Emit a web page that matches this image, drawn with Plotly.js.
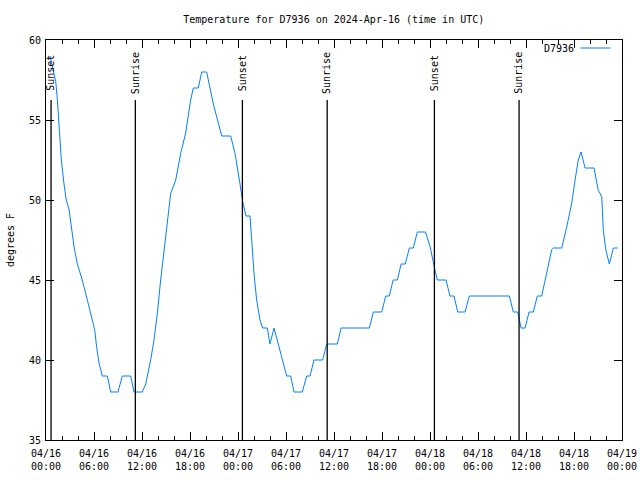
<!DOCTYPE html>
<html>
<head>
<meta charset="utf-8">
<script src="https://cdn.plot.ly/plotly-3.0.1.min.js"></script>
<style>html,body{margin:0;padding:0;background:#fff;}#chart{width:640px;height:480px;}</style>
</head>
<body>
<div id="chart"></div>
<script>
// ---- data ----
const times = [
 "2024-04-16 00:30","2024-04-16 01:13","2024-04-16 01:25","2024-04-16 01:38","2024-04-16 01:55",
 "2024-04-16 02:15","2024-04-16 02:32","2024-04-16 02:53","2024-04-16 03:10","2024-04-16 03:30",
 "2024-04-16 03:55","2024-04-16 04:32","2024-04-16 05:10","2024-04-16 05:47","2024-04-16 06:05",
 "2024-04-16 06:20","2024-04-16 06:38","2024-04-16 07:02","2024-04-16 07:40","2024-04-16 08:05",
 "2024-04-16 09:00","2024-04-16 09:32","2024-04-16 10:35","2024-04-16 11:00","2024-04-16 12:02",
 "2024-04-16 12:28","2024-04-16 13:05","2024-04-16 13:30","2024-04-16 13:55","2024-04-16 14:20",
 "2024-04-16 14:45","2024-04-16 15:10","2024-04-16 15:35","2024-04-16 16:13","2024-04-16 16:50",
 "2024-04-16 17:28","2024-04-16 18:05","2024-04-16 18:25","2024-04-16 19:02","2024-04-16 19:28",
 "2024-04-16 20:05","2024-04-16 20:55","2024-04-16 21:58","2024-04-16 23:05","2024-04-16 23:38",
 "2024-04-17 00:15","2024-04-17 00:35","2024-04-17 01:00","2024-04-17 01:30","2024-04-17 01:43",
 "2024-04-17 02:00","2024-04-17 02:20","2024-04-17 02:45","2024-04-17 03:05","2024-04-17 03:40",
 "2024-04-17 04:00","2024-04-17 04:30","2024-04-17 05:02","2024-04-17 05:35","2024-04-17 06:05",
 "2024-04-17 06:35","2024-04-17 07:00","2024-04-17 08:02","2024-04-17 08:35","2024-04-17 09:00",
 "2024-04-17 09:30","2024-04-17 10:35","2024-04-17 11:05","2024-04-17 12:25","2024-04-17 12:53",
 "2024-04-17 16:25","2024-04-17 16:55","2024-04-17 17:58","2024-04-17 18:28","2024-04-17 18:55",
 "2024-04-17 19:23","2024-04-17 19:55","2024-04-17 20:23","2024-04-17 20:55","2024-04-17 21:25",
 "2024-04-17 21:55","2024-04-17 22:25","2024-04-17 23:26","2024-04-18 00:00","2024-04-18 00:38",
 "2024-04-18 00:55","2024-04-18 02:00","2024-04-18 02:30","2024-04-18 03:00","2024-04-18 03:28",
 "2024-04-18 04:23","2024-04-18 04:55","2024-04-18 09:55","2024-04-18 10:25","2024-04-18 10:58",
 "2024-04-18 11:23","2024-04-18 11:53","2024-04-18 12:23","2024-04-18 12:55","2024-04-18 13:25",
 "2024-04-18 13:58","2024-04-18 14:35","2024-04-18 15:13","2024-04-18 15:25","2024-04-18 16:28",
 "2024-04-18 17:05","2024-04-18 17:43","2024-04-18 18:08","2024-04-18 18:32","2024-04-18 18:53",
 "2024-04-18 19:23","2024-04-18 20:30","2024-04-18 21:02","2024-04-18 21:28","2024-04-18 21:40",
 "2024-04-18 21:58","2024-04-18 22:25","2024-04-18 22:55","2024-04-18 23:28"
];
const tempsF = [
 59.0,57.4,56.3,54.6,52.5,
 51.0,50.0,49.4,48.3,47.1,
 46.0,45.0,43.75,42.5,41.9,
 40.8,39.8,39,39,38,
 38,39,39,38,38,
 38.5,40,41.25,42.9,45,
 46.9,48.75,50.4,51.25,52.9,
 54.2,56.25,57,57,58,
 58,56,54,54,52.9,
 51,49.9,49,49,47.5,
 45.4,43.75,42.5,42,42,
 41,42,41,40,39,
 39,38,38,39,39,
 40,40,41,41,42,
 42,43,43,44,44,
 45,45,46,46,47,
 47,48,48,47.1,45.6,
 45,45,44,44,43,
 43,44,44,43,43,
 42,42,43,43,44,
 44,45.4,46.9,47,47,
 48.3,49.8,51.25,52.5,53,
 52,52,50.6,50.2,48.1,
 46.9,46,47,47
];
const seriesName = "D7936";
const sunTimes = ["2024-04-16 00:38","2024-04-16 11:10","2024-04-17 00:33","2024-04-17 11:09","2024-04-18 00:33","2024-04-18 11:08"];
const sunLabels = ["Sunset","Sunrise","Sunset","Sunrise","Sunset","Sunrise"];
const xTickVals = ["2024-04-16 00:00","2024-04-16 06:00","2024-04-16 12:00","2024-04-16 18:00",
 "2024-04-17 00:00","2024-04-17 06:00","2024-04-17 12:00","2024-04-17 18:00",
 "2024-04-18 00:00","2024-04-18 06:00","2024-04-18 12:00","2024-04-18 18:00","2024-04-19 00:00"];
const xTickText = ["04/16<br>00:00","04/16<br>06:00","04/16<br>12:00","04/16<br>18:00",
 "04/17<br>00:00","04/17<br>06:00","04/17<br>12:00","04/17<br>18:00",
 "04/18<br>00:00","04/18<br>06:00","04/18<br>12:00","04/18<br>18:00","04/19<br>00:00"];
const titleText = "Temperature for D7936 on 2024-Apr-16 (time in UTC)";
const yTitle = "degrees F";

const FONT = "DejaVu Sans Mono, Liberation Mono, monospace";
const lineColor = "#0080ff";

const shapes = sunTimes.map(t => ({
  type: "line", xref: "x", yref: "paper", x0: t, x1: t, y0: 0, y1: 0.85,
  line: {color: "#000", width: 1.3}
}));
// legend sample line
shapes.push({type: "line", xref: "paper", yref: "paper", x0: 0.928, x1: 0.98, y0: 0.98, y1: 0.98,
  line: {color: lineColor, width: 1}});

const annotations = sunTimes.map((t, i) => ({
  x: t, xref: "x", y: 0.918, yref: "paper", text: sunLabels[i], textangle: -90,
  showarrow: false, xanchor: "center", yanchor: "middle",
  font: {family: FONT, size: 10, color: "#000"}
}));
annotations.push({x: 0.92, xref: "paper", y: 0.98, yref: "paper", text: seriesName,
  showarrow: false, xanchor: "right", yanchor: "middle", font: {family: FONT, size: 10, color: "#000"}});

const trace = {
  x: times, y: tempsF, type: "scatter", mode: "lines", name: seriesName,
  line: {color: lineColor, width: 1}, hoverinfo: "skip"
};

const layout = {
  width: 640, height: 480,
  margin: {l: 46, r: 18, t: 40, b: 40, pad: 0},
  paper_bgcolor: "#fff", plot_bgcolor: "#fff",
  showlegend: false,
  font: {family: FONT, size: 10, color: "#000"},
  title: {text: titleText, x: 0.5215, xanchor: "center", y: 0.96, yanchor: "middle",
    font: {family: FONT, size: 10, color: "#000"}},
  xaxis: {
    type: "date", range: ["2024-04-16 00:00", "2024-04-19 00:00"],
    tickvals: xTickVals, ticktext: xTickText, tickmode: "array",
    ticks: "inside", ticklen: 8, tickwidth: 1, tickcolor: "#000",
    minor: {dtick: 2*3600*1000, tick0: "2024-04-16 00:00", ticks: "inside", ticklen: 4, tickcolor: "#000", showgrid: false},
    showline: true, linecolor: "#000", linewidth: 1, mirror: "ticks",
    showgrid: false, zeroline: false, tickangle: 0, ticklabelstandoff: 4,
    tickfont: {family: FONT, size: 10, color: "#000"}
  },
  yaxis: {
    range: [35, 60], dtick: 5, tick0: 35,
    ticks: "inside", ticklen: 8, tickwidth: 1, tickcolor: "#000",
    showline: true, linecolor: "#000", linewidth: 1, mirror: "ticks",
    showgrid: false, zeroline: false, ticklabelstandoff: 2,
    title: {text: yTitle, standoff: 12, font: {family: FONT, size: 10, color: "#000"}},
    tickfont: {family: FONT, size: 10, color: "#000"}
  },
  shapes: shapes,
  annotations: annotations
};

Plotly.newPlot("chart", [trace], layout, {staticPlot: true, displayModeBar: false});
</script>
</body>
</html>
